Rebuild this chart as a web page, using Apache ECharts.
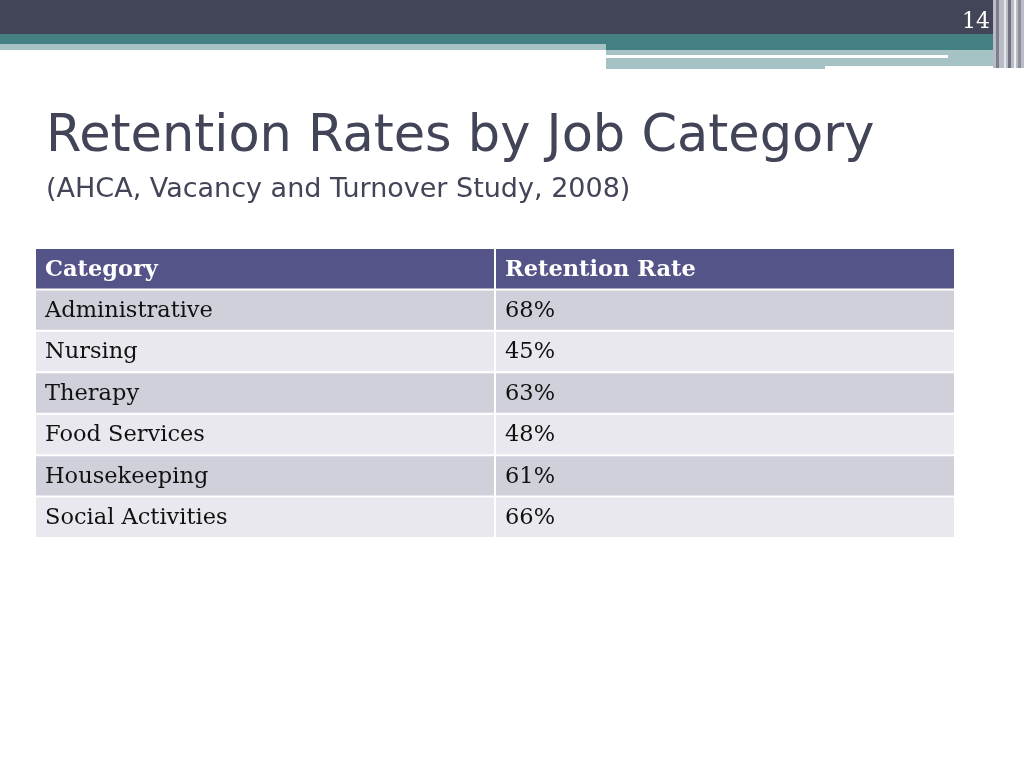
<!DOCTYPE html>
<html>
<head>
<meta charset="utf-8">
<script src="https://cdn.jsdelivr.net/npm/echarts@6/dist/echarts.min.js"></script>
<style>
html,body{margin:0;padding:0;background:#fff;}
#chart{width:1024px;height:768px;}
</style>
</head>
<body>
<div id="chart"></div>
<script>
// ---- data ----
const headers = ['Category', 'Retention Rate'];
const categories = ['Administrative', 'Nursing', 'Therapy', 'Food Services', 'Housekeeping', 'Social Activities'];
const retentionRates = [68, 45, 63, 48, 61, 66];
const rowLabels = ['header'].concat(categories);

// ---- cells built from data ----
const cells = [];
headers.forEach(function (h, c) { cells.push([c, 0, h]); });
categories.forEach(function (cat, i) {
  cells.push([0, i + 1, cat]);
  cells.push([1, i + 1, retentionRates[i] + '%']);
});

const chart = echarts.init(document.getElementById('chart'), null, {renderer: 'canvas'});

function renderCell(params, api) {
  const c = api.value(0), r = api.value(1);
  const text = cells[params.dataIndex][2];
  const p = api.coord([c, r]);
  const s = api.size([1, 1]);
  const x = p[0] - s[0] / 2, y = p[1] - s[1] / 2;
  let fill;
  if (r === 0) fill = '#545488';
  else fill = (r % 2 === 1) ? '#cfd0da' : '#e8e8ee';
  return {
    type: 'group',
    children: [
      {type: 'rect', shape: {x: x + 1, y: y + 1, width: s[0] - 2, height: s[1] - 2}, style: {fill: fill}},
      {type: 'text', style: {
        x: x + 10, y: p[1] + 1, text: String(text),
        fill: r === 0 ? '#ffffff' : '#111111',
        font: (r === 0 ? 'bold ' : '') + '22.5px "DejaVu Serif", serif',
        textVerticalAlign: 'middle', textAlign: 'left'
      }}
    ]
  };
}

const option = {
  animation: false,
  backgroundColor: '#ffffff',
  title: [
    {text: 'Retention Rates by Job Category', left: 46, top: 112, padding: 0,
     textStyle: {fontFamily: 'DejaVu Sans', fontWeight: 'normal', fontSize: 51, color: '#424457'}},
    {text: '(AHCA, Vacancy and Turnover Study, 2008)', left: 46, top: 176, padding: 0,
     textStyle: {fontFamily: 'DejaVu Sans', fontWeight: 'normal', fontSize: 27, color: '#424457'}}
  ],
  graphic: [
    {type: 'rect', shape: {x: 0, y: 0, width: 1024, height: 34}, style: {fill: '#424457'}, silent: true},
    {type: 'rect', shape: {x: 0, y: 34, width: 1024, height: 10}, style: {fill: '#447f83'}, silent: true},
    {type: 'rect', shape: {x: 0, y: 44, width: 606, height: 6}, style: {fill: '#a5c2c5'}, silent: true},
    {type: 'rect', shape: {x: 606, y: 44, width: 418, height: 6}, style: {fill: '#447f83'}, silent: true},
    {type: 'rect', shape: {x: 606, y: 50, width: 400, height: 16}, style: {fill: '#a5c2c5'}, silent: true},
    {type: 'rect', shape: {x: 606, y: 55, width: 342, height: 3}, style: {fill: '#ffffff'}, silent: true},
    {type: 'rect', shape: {x: 606, y: 66, width: 219, height: 3}, style: {fill: '#a5c2c5'}, silent: true},
    {type: 'rect', shape: {x: 993, y: 0, width: 31, height: 68}, style: {fill: '#b9bcc4'}, silent: true},
    {type: 'rect', shape: {x: 996, y: 0, width: 3, height: 68}, style: {fill: '#7d808c'}, silent: true},
    {type: 'rect', shape: {x: 1004, y: 0, width: 2, height: 68}, style: {fill: '#e6e7ea'}, silent: true},
    {type: 'rect', shape: {x: 1008, y: 0, width: 3, height: 68}, style: {fill: '#6f7280'}, silent: true},
    {type: 'rect', shape: {x: 1014, y: 0, width: 2, height: 68}, style: {fill: '#f2f2f4'}, silent: true},
    {type: 'rect', shape: {x: 1018, y: 0, width: 3, height: 68}, style: {fill: '#8c8f9a'}, silent: true},
    {type: 'text', style: {x: 990, y: 33, text: '14', textAlign: 'right', textVerticalAlign: 'bottom',
      font: '22px "DejaVu Serif", serif', fill: '#ffffff'}, silent: true}
  ],
  grid: {left: 35, top: 248, width: 920, height: 290},
  xAxis: {type: 'category', data: headers, show: false},
  yAxis: {type: 'category', data: rowLabels, inverse: true, show: false},
  series: [{
    type: 'custom',
    renderItem: renderCell,
    data: cells.map(function (d) { return [d[0], d[1]]; })
  }]
};
chart.setOption(option);
</script>
</body>
</html>
